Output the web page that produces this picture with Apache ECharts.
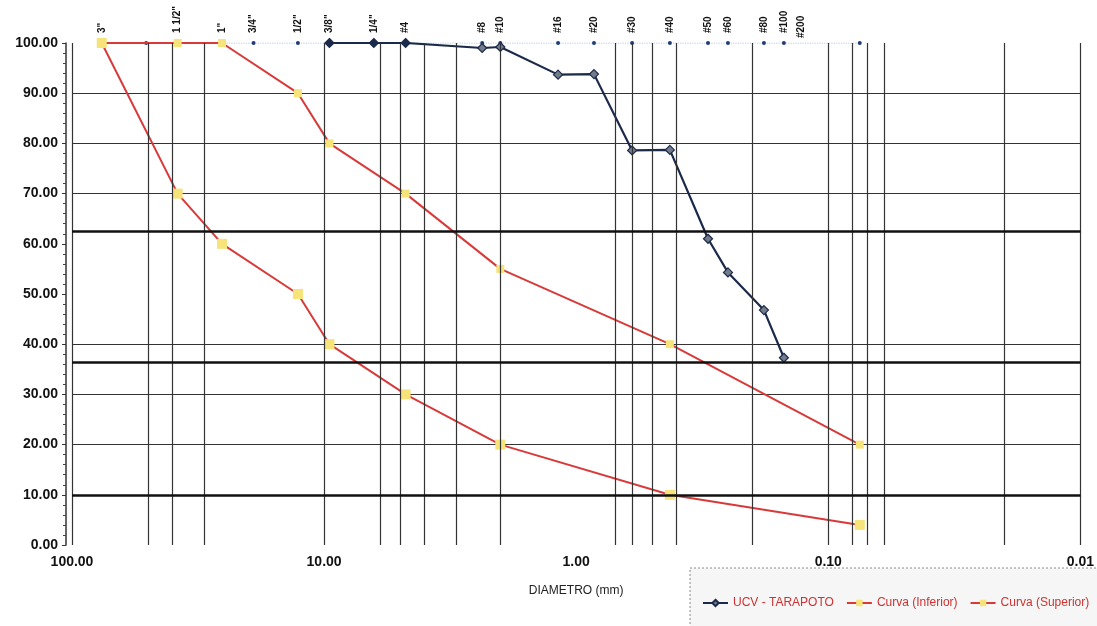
<!DOCTYPE html>
<html>
<head>
<meta charset="utf-8">
<script src="https://cdn.jsdelivr.net/npm/echarts@6/dist/echarts.min.js"></script>
<style>
html,body{margin:0;padding:0;background:#fff;}
#chart{width:1097px;height:626px;}
</style>
</head>
<body>
<div id="chart"></div>
<script>
// Sieve reference series (top labels)
const sieveSizes = [76.2, 50.8, 38.1, 25.4, 19.05, 12.7, 9.525, 6.35, 4.75, 2.36, 2.0, 1.18, 0.85, 0.6, 0.425, 0.3, 0.25, 0.18, 0.15, 0.075];
const sieveNames = ['3"', '', '1 1/2"', '1"', '3/4"', '1/2"', '3/8"', '1/4"', '#4', '#8', '#10', '#16', '#20', '#30', '#40', '#50', '#60', '#80', '#100', '#200'];

// UCV - TARAPOTO sample
const ucvSizes = [9.525, 6.35, 4.75, 2.36, 2.0, 1.18, 0.85, 0.6, 0.425, 0.3, 0.25, 0.18, 0.15];
const ucvPassing = [100, 100, 100, 99, 99.2, 93.7, 93.8, 78.6, 78.7, 61, 54.3, 46.8, 37.3];

// Limit curves
const limitSizes = [76.2, 38.1, 25.4, 12.7, 9.525, 4.75, 2.0, 0.425, 0.075];
const inferiorPassing = [100, 70, 60, 50, 40, 30, 20, 10, 4];
const superiorPassing = [100, 100, 100, 90, 80, 70, 55, 40, 20];

// Axis ticks / grid values
const yTicks = [0, 10, 20, 30, 40, 50, 60, 70, 80, 90, 100];
const yGridShown = [20, 30, 40, 70, 80, 90];
const xGridValues = [100, 50, 40, 30, 10, 6, 5, 4, 3, 2, 0.7, 0.6, 0.5, 0.4, 0.2, 0.1, 0.08, 0.07, 0.06, 0.02, 0.01];
const yHeavyLines = [62.5, 36.5, 10];

const FONT = '"Liberation Sans", Arial, sans-serif';
const RED = '#d83a3a';
const YEL = '#f6e37a';
const NAVY = '#1b2a4a';

const chart = echarts.init(document.getElementById('chart'), null, {renderer: 'canvas'});

const sieveData = sieveSizes.map((s, i) => {
  const d = {value: [s, 100], name: sieveNames[i]};
  if (sieveNames[i] === '#200') d.label = {offset: [-5, -59]};
  return d;
});

const markLineData = [
  ...xGridValues.map(v => ({xAxis: v, lineStyle: {color: '#333', width: 1.2, type: 'solid'}})),
  ...yHeavyLines.map(v => ({yAxis: v, lineStyle: {color: '#111', width: 2.5, type: 'solid'}}))
];

const option = {
  backgroundColor: '#fff',
  animation: false,
  textStyle: {fontFamily: FONT},
  grid: {left: 72, right: 14, top: 43, bottom: 81, containLabel: false},
  graphic: [{
    type: 'rect', z: -1,
    shape: {x: 690, y: 568, width: 420, height: 70},
    style: {fill: '#f6f6f6', stroke: '#8a8a8a', lineWidth: 1, lineDash: [2, 2]}
  }],
  legend: {
    data: ['UCV - TARAPOTO', 'Curva (Inferior)', 'Curva (Superior)'],
    left: 697, top: 592,
    itemWidth: 25, itemHeight: 8, itemGap: 12,
    textStyle: {fontSize: 12, color: '#cc3333', fontFamily: FONT}
  },
  xAxis: {
    type: 'log', logBase: 10, inverse: true, min: 0.01, max: 100,
    axisLine: {show: false}, axisTick: {show: false}, splitLine: {show: false},
    axisLabel: {
      formatter: v => Number(v).toFixed(2),
      fontSize: 14, fontWeight: 'bold', color: '#111', margin: 10, fontFamily: FONT,
      showMinLabel: true, showMaxLabel: true
    },
    name: 'DIAMETRO (mm)', nameLocation: 'middle', nameGap: 40,
    nameTextStyle: {fontSize: 12, color: '#222', fontFamily: FONT}
  },
  yAxis: {
    type: 'value', min: 0, max: 100, interval: 10, offset: 6,
    axisLine: {show: true, lineStyle: {color: '#333', width: 1.5}},
    axisTick: {show: true, length: 4, lineStyle: {color: '#333'}},
    minorTick: {show: true, splitNumber: 5, length: 3, lineStyle: {color: '#444'}},
    axisLabel: {
      formatter: v => Number(v).toFixed(2),
      fontSize: 14, fontWeight: 'bold', color: '#111', margin: 8, fontFamily: FONT
    },
    splitLine: {
      show: true,
      lineStyle: {width: 1.2, color: yTicks.map(t => yGridShown.includes(t) ? '#333' : 'rgba(0,0,0,0)')}
    }
  },
  series: [
    {
      name: 'Tamices', type: 'line', z: 1,
      data: sieveData,
      symbol: 'circle', symbolSize: 4,
      itemStyle: {color: '#1f3c78'},
      lineStyle: {color: '#9dbbe0', width: 1.2, type: 'dotted'},
      label: {
        show: true, formatter: '{b}', position: 'top', distance: 8,
        rotate: 90, align: 'left', verticalAlign: 'middle',
        fontSize: 10, fontWeight: 'bold', color: '#111', fontFamily: FONT
      },
      markLine: {
        silent: true, symbol: ['none', 'none'], label: {show: false},
        data: markLineData
      }
    },
    {
      name: 'Curva (Inferior)', type: 'line', z: 3,
      data: limitSizes.map((s, i) => [s, inferiorPassing[i]]),
      symbol: 'rect', symbolSize: 10,
      itemStyle: {color: YEL},
      lineStyle: {color: RED, width: 2}
    },
    {
      name: 'Curva (Superior)', type: 'line', z: 3,
      data: limitSizes.map((s, i) => [s, superiorPassing[i]]),
      symbol: 'rect', symbolSize: 8,
      itemStyle: {color: YEL},
      lineStyle: {color: RED, width: 2}
    },
    {
      name: 'UCV - TARAPOTO', type: 'line', z: 4,
      data: ucvSizes.map((s, i) => ({
        value: [s, ucvPassing[i]],
        itemStyle: i < 3 ? {color: NAVY, borderColor: NAVY} : undefined
      })),
      symbol: 'diamond', symbolSize: 9,
      itemStyle: {color: '#747b8a', borderColor: NAVY, borderWidth: 1.2},
      lineStyle: {color: NAVY, width: 2.2}
    }
  ]
};

chart.setOption(option);
</script>
</body>
</html>
